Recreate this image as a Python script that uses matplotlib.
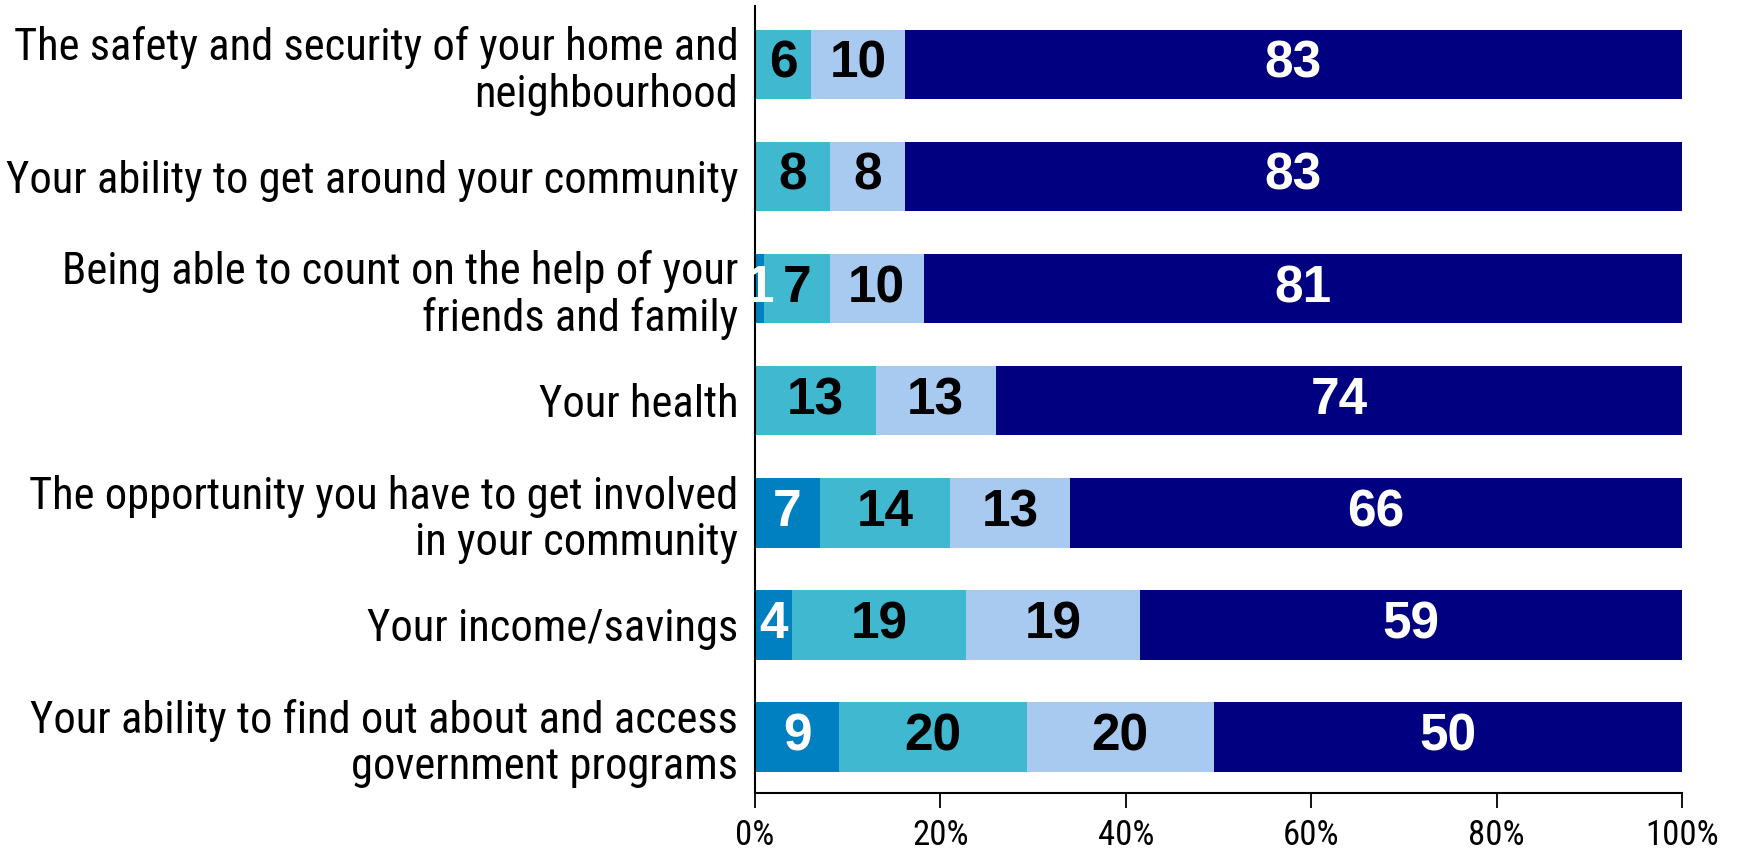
import matplotlib.pyplot as plt
import numpy as np

OUT = "out.png"

CATEGORIES = [
    "The safety and security of your home and\nneighbourhood",
    "Your ability to get around your community",
    "Being able to count on the help of your\nfriends and family",
    "Your health",
    "The opportunity you have to get involved\nin your community",
    "Your income/savings",
    "Your ability to find out about and access\ngovernment programs",
]

SERIES_1 = [0, 0, 1, 0, 7, 4, 9]
SERIES_2 = [6, 8, 7, 13, 14, 19, 20]
SERIES_3 = [10, 8, 10, 13, 13, 19, 20]
SERIES_4 = [83, 83, 81, 74, 66, 59, 50]

XTICKS = [0, 20, 40, 60, 80, 100]
XTICK_LABELS = ["0%", "20%", "40%", "60%", "80%", "100%"]

COLORS = ["#0080c0", "#40b8d0", "#a8caf0", "#000080"]
TEXT_COLORS = ["white", "black", "black", "white"]

NARROW = ["Roboto Condensed", "Liberation Sans Narrow", "DejaVu Sans"]
BOLD = ["Liberation Sans", "DejaVu Sans"]


def main() -> None:
    series = np.array([SERIES_1, SERIES_2, SERIES_3, SERIES_4], dtype=float)
    totals = series.sum(axis=0)
    shares = series / totals * 100

    fig = plt.figure(figsize=(17.38, 8.52), dpi=100)
    ax = fig.add_axes([0.4344, 0.0692, 0.9678 - 0.4344, 0.993 - 0.0692])

    y = np.arange(len(CATEGORIES))
    left = np.zeros(len(CATEGORIES))
    for i in range(len(series)):
        ax.barh(y, shares[i], left=left, height=0.62, color=COLORS[i], linewidth=0)
        for j in range(len(CATEGORIES)):
            v = int(series[i][j])
            if v > 0:
                ax.text(left[j] + shares[i][j] / 2, y[j], str(v), ha="center", va="center",
                        fontsize=37, fontweight="bold", color=TEXT_COLORS[i], family=BOLD)
        left += shares[i]

    ax.set_xlim(0, 100)
    ax.set_ylim(6.5, -0.52)
    ax.set_yticks(y)
    ax.set_yticklabels(CATEGORIES, fontsize=32, family=NARROW, fontstretch="condensed",
                       linespacing=1.12)
    ax.set_xticks(XTICKS)
    ax.set_xticklabels(XTICK_LABELS, fontsize=25, family=NARROW, fontstretch="condensed")
    ax.tick_params(axis="y", length=0, pad=12)
    ax.tick_params(axis="x", length=11, width=1.3, pad=8, direction="out")

    for spine in ["top", "right"]:
        ax.spines[spine].set_visible(False)
    ax.spines["left"].set_linewidth(1.5)
    ax.spines["bottom"].set_linewidth(1.5)

    fig.savefig(OUT, dpi=100)
    plt.close(fig)


if __name__ == "__main__":
    main()
